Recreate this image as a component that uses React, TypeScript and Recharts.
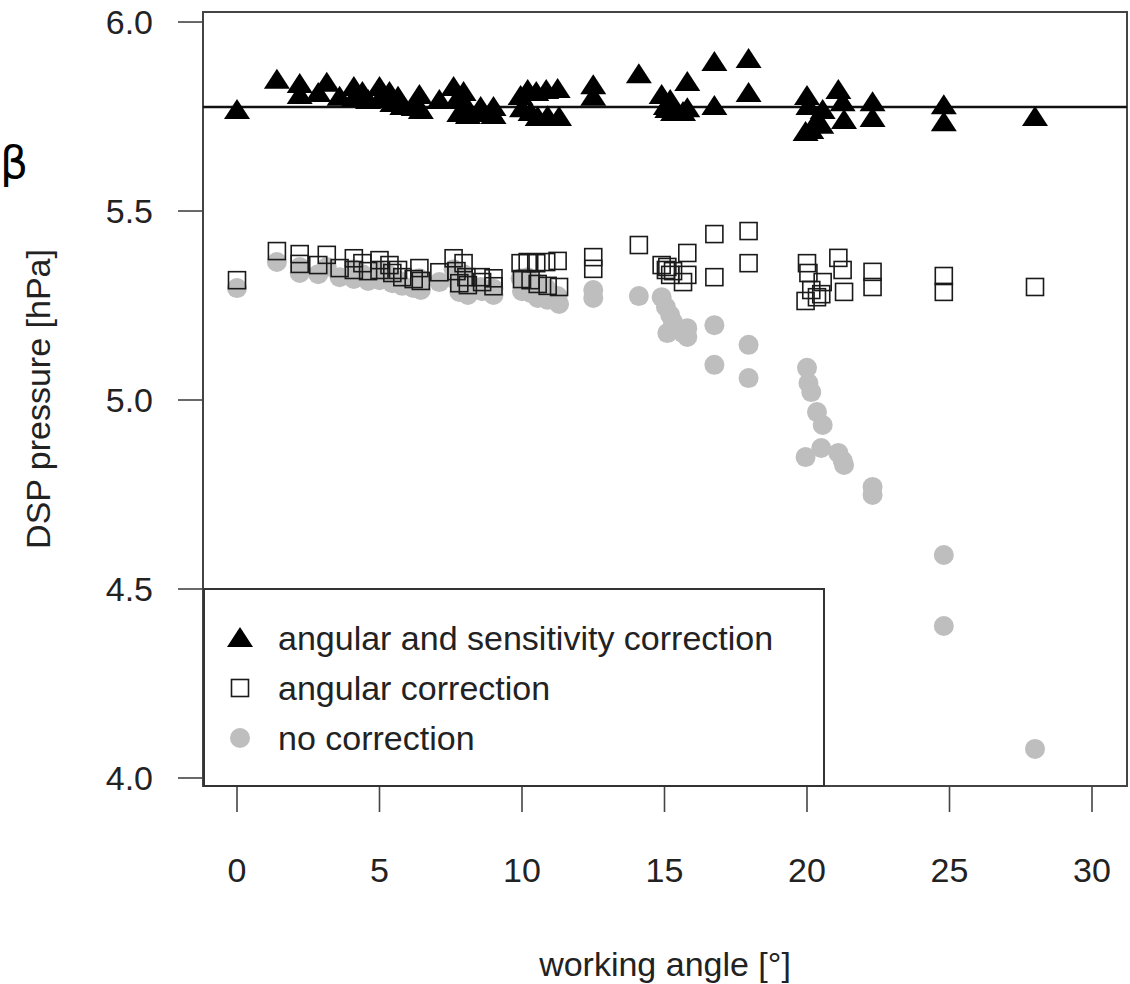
import { ScatterChart, Scatter, XAxis, YAxis, ReferenceLine, ReferenceArea, Legend, Label } from "recharts"

// working angle [°] of every measurement
const angles = [
  0.0, 1.4, 2.2, 2.2, 2.85, 3.15, 3.6, 4.1, 4.1, 4.4, 4.6, 5.0, 5.0, 5.35, 5.45, 5.65, 5.8, 6.2, 6.4, 6.45,
  7.1, 7.6, 7.7, 7.8, 7.95, 8.05, 8.1, 8.55, 8.6, 9.0, 9.0, 9.95, 10.0, 10.2, 10.3, 10.5, 10.55, 10.85, 10.9,
  11.25, 11.3, 12.5, 12.5, 14.1,
  14.9, 15.05, 15.2, 15.3, 15.1, 15.65, 15.8, 15.8,
  16.75, 16.75, 17.95, 17.95,
  20.0, 20.05, 20.15, 20.35, 20.55, 19.95, 20.5, 21.1, 21.3, 21.25,
  22.3, 22.3, 24.8, 24.8, 28.0,
]

// DSP pressure [hPa], angular and sensitivity correction
const withBoth = [
  5.767, 5.847, 5.836, 5.807, 5.812, 5.839, 5.802, 5.828, 5.799, 5.815, 5.794, 5.828, 5.796, 5.815, 5.786, 5.802, 5.778, 5.775, 5.807, 5.767,
  5.794, 5.828, 5.794, 5.759, 5.815, 5.778, 5.754, 5.775, 5.759, 5.775, 5.754, 5.804, 5.772, 5.82, 5.762, 5.815, 5.749, 5.82, 5.751,
  5.823, 5.749, 5.833, 5.802, 5.862,
  5.807, 5.778, 5.794, 5.762, 5.77, 5.762, 5.841, 5.772,
  5.894, 5.778, 5.902, 5.812,
  5.804, 5.778, 5.714, 5.741, 5.767, 5.709, 5.728, 5.82, 5.741, 5.788,
  5.788, 5.746, 5.78, 5.735, 5.749,
]

// angular correction only
const angularOnly = [
  5.317, 5.394, 5.386, 5.36, 5.357, 5.384, 5.349, 5.375, 5.344, 5.362, 5.341, 5.37, 5.344, 5.357, 5.336, 5.344, 5.325, 5.32, 5.349, 5.315,
  5.338, 5.375, 5.341, 5.309, 5.362, 5.325, 5.304, 5.325, 5.312, 5.322, 5.301, 5.362, 5.32, 5.365, 5.317, 5.362, 5.307, 5.365, 5.302,
  5.368, 5.299, 5.378, 5.347, 5.41,
  5.357, 5.344, 5.331, 5.341, 5.352, 5.312, 5.389, 5.331,
  5.439, 5.325, 5.447, 5.362,
  5.362, 5.336, 5.291, 5.272, 5.312, 5.262, 5.28, 5.376, 5.286, 5.344,
  5.339, 5.299, 5.328, 5.286, 5.299,
]

// no correction
const noCorrection = [
  5.296, 5.365, 5.352, 5.336, 5.333, 5.352, 5.325, 5.346, 5.32, 5.333, 5.315, 5.341, 5.317, 5.33, 5.309, 5.317, 5.302, 5.296, 5.322, 5.291,
  5.312, 5.346, 5.315, 5.286, 5.333, 5.299, 5.278, 5.299, 5.288, 5.294, 5.278, 5.322, 5.288, 5.325, 5.283, 5.309, 5.27, 5.296, 5.265,
  5.275, 5.254, 5.291, 5.27, 5.275,
  5.272, 5.246, 5.225, 5.206, 5.177, 5.177, 5.19, 5.167,
  5.198, 5.093, 5.146, 5.058,
  5.085, 5.045, 5.021, 4.968, 4.934, 4.849, 4.873, 4.86, 4.828, 4.84,
  4.77, 4.749, 4.59, 4.402, 4.077,
]

const xTicks = [0, 5, 10, 15, 20, 25, 30]
const yTicks = [4.0, 4.5, 5.0, 5.5, 6.0]
const meanLevel = 5.775
const legendOrder = ["triangle", "square", "circle"]

const X_MIN = -1.193
const X_MAX = 31.228
const Y_MIN = 3.9788
const Y_MAX = 6.0265

const FONT = "'Liberation Sans', Arial, Helvetica, sans-serif"
const INK = "#222"

const toPoints = (vals) => angles.map((a, i) => ({ x: a, y: vals[i] }))

const Triangle = ({ cx, cy }) => (
  <path d={`M${cx},${cy - 11} L${cx + 13},${cy + 9} L${cx - 13},${cy + 9} Z`} fill="#000" />
)

const Square = ({ cx, cy }) => (
  <rect x={cx - 8.5} y={cy - 8.5} width={17} height={17} fill="none" stroke="#1a1a1a" strokeWidth={1.6} />
)

const Dot = ({ cx, cy }) => <circle cx={cx} cy={cy} r={10} fill="#bebebe" />

const XTick = ({ x, y, payload }) => (
  <text x={x} y={y} textAnchor="middle" fontSize={34} fontFamily={FONT} fill={INK}>
    {payload.value}
  </text>
)

const YTick = ({ x, y, payload }) => (
  <text x={x} y={y + 12} textAnchor="end" fontSize={34} fontFamily={FONT} fill={INK}>
    {payload.value.toFixed(1)}
  </text>
)

const LegendMarker = ({ type, cx, cy }) => {
  if (type === "triangle") return <Triangle cx={cx} cy={cy} />
  if (type === "square") return <Square cx={cx} cy={cy} />
  return <Dot cx={cx} cy={cy} />
}

const LegendBox = ({ payload }) => {
  const items = [...(payload || [])].sort((a, b) => legendOrder.indexOf(a.type) - legendOrder.indexOf(b.type))
  return (
    <svg width={622} height={199} style={{ display: "block" }}>
      <rect x={1} y={1} width={620} height={197} fill="#fff" stroke="#333" strokeWidth={2} />
      {items.map((it, i) => (
        <g key={it.value}>
          <LegendMarker type={it.type} cx={37} cy={50 + i * 50} />
          <text x={75} y={62 + i * 50} fontSize={34} fontFamily={FONT} fill={INK}>
            {it.value}
          </text>
        </g>
      ))}
    </svg>
  )
}

export default function App() {
  return (
    <div style={{ position: "absolute", left: 0, top: 0, width: 1130, height: 984, background: "#fff" }}>
      <ScatterChart width={1130} height={984} margin={{ top: 12, right: 3, bottom: 168, left: 143 }}>
        <XAxis
          type="number"
          dataKey="x"
          domain={[X_MIN, X_MAX]}
          ticks={xTicks}
          allowDataOverflow
          height={30}
          tickSize={26}
          tickMargin={70}
          tick={<XTick />}
          axisLine={false}
          tickLine={{ stroke: "#444", strokeWidth: 1.6 }}
        >
          <Label
            content={({ viewBox }) => (
              <text
                x={viewBox.x + viewBox.width / 2}
                y={viewBox.y + 190}
                textAnchor="middle"
                fontSize={34}
                fontFamily={FONT}
                fill={INK}
              >
                working angle [°]
              </text>
            )}
          />
        </XAxis>
        <YAxis
          type="number"
          dataKey="y"
          domain={[Y_MIN, Y_MAX]}
          ticks={yTicks}
          allowDataOverflow
          width={60}
          tickSize={25}
          tickMargin={25}
          tick={<YTick />}
          axisLine={false}
          tickLine={{ stroke: "#444", strokeWidth: 1.6 }}
        >
          <Label
            content={({ viewBox }) => (
              <g>
                <text x={0} y={178} fontSize={44} fontFamily="'DejaVu Sans', sans-serif" fill="#000">
                  β
                </text>
                <text
                  x={50}
                  y={viewBox.y + viewBox.height / 2}
                  transform={`rotate(-90, 50, ${viewBox.y + viewBox.height / 2})`}
                  textAnchor="middle"
                  fontSize={34}
                  fontFamily={FONT}
                  fill={INK}
                >
                  DSP pressure [hPa]
                </text>
              </g>
            )}
          />
        </YAxis>
        <ReferenceArea x1={X_MIN} x2={X_MAX} y1={Y_MIN} y2={Y_MAX} fill="none" stroke="#444" strokeWidth={2} />
        <Scatter name="no correction" data={toPoints(noCorrection)} shape={<Dot />} legendType="circle" isAnimationActive={false} />
        <Scatter name="angular correction" data={toPoints(angularOnly)} shape={<Square />} legendType="square" isAnimationActive={false} />
        <Scatter
          name="angular and sensitivity correction"
          data={toPoints(withBoth)}
          shape={<Triangle />}
          legendType="triangle"
          isAnimationActive={false}
        />
        <ReferenceLine y={meanLevel} stroke="#111" strokeWidth={2.5} />
        <Legend
          layout="horizontal"
          verticalAlign="middle"
          align="center"
          content={<LegendBox />}
          wrapperStyle={{ position: "absolute", left: 203, top: 588, width: 622, height: 199 }}
        />
      </ScatterChart>
    </div>
  )
}
